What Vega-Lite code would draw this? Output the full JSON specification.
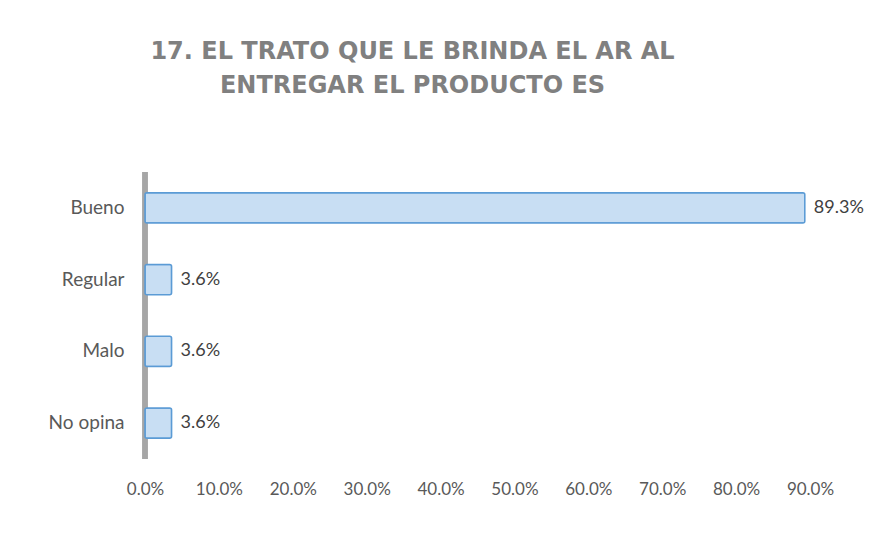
{
  "$schema": "https://vega.github.io/schema/vega-lite/v6.json",
  "width": 665,
  "height": 287,
  "autosize": {"type": "none"},
  "padding": {"left": 145, "top": 172, "right": 67, "bottom": 84},
  "background": "white",
  "config": {"view": {"stroke": null}, "font": "Lato"},
  "title": {
    "text": ["17. EL TRATO QUE LE BRINDA EL AR AL", "ENTREGAR EL PRODUCTO ES"],
    "anchor": "middle",
    "frame": "group",
    "dx": -65,
    "offset": 72,
    "font": "DejaVu Sans",
    "fontSize": 24,
    "fontWeight": "bold",
    "color": "#808080",
    "lineHeight": 34
  },
  "data": {
    "values": [
      {"categoria": "Bueno", "porcentaje": 0.893},
      {"categoria": "Regular", "porcentaje": 0.036},
      {"categoria": "Malo", "porcentaje": 0.036},
      {"categoria": "No opina", "porcentaje": 0.036}
    ]
  },
  "encoding": {
    "y": {
      "field": "categoria",
      "type": "nominal",
      "sort": null,
      "title": null,
      "scale": {"paddingInner": 0.58, "paddingOuter": 0.29},
      "axis": {
        "domain": false,
        "ticks": false,
        "labelPadding": 21,
        "labelFontSize": 19,
        "labelColor": "#595959",
        "labelFont": "Lato"
      }
    }
  },
  "layer": [
    {
      "mark": {"type": "rule", "color": "#a6a6a6", "strokeWidth": 5},
      "encoding": {
        "x": {"datum": 0, "type": "quantitative"},
        "y": null
      }
    },
    {
      "mark": {
        "type": "bar",
        "fill": "#c8def3",
        "stroke": "#5b9bd5",
        "strokeWidth": 1.5,
        "cornerRadius": 2
      },
      "encoding": {
        "x": {
          "field": "porcentaje",
          "type": "quantitative",
          "title": null,
          "scale": {"domain": [0, 0.9], "nice": false},
          "axis": {
            "format": ".1%",
            "values": [0, 0.1, 0.2, 0.3, 0.4, 0.5, 0.6, 0.7, 0.8, 0.9],
            "grid": false,
            "domain": false,
            "ticks": false,
            "labelPadding": 22,
            "labelFontSize": 17,
            "labelColor": "#595959",
            "labelFont": "Lato",
            "labelFlush": false
          }
        }
      }
    },
    {
      "mark": {
        "type": "text",
        "align": "left",
        "baseline": "middle",
        "dx": 9,
        "fontSize": 18,
        "font": "Lato",
        "color": "#404040"
      },
      "encoding": {
        "x": {"field": "porcentaje", "type": "quantitative"},
        "text": {"field": "porcentaje", "type": "quantitative", "format": ".1%"}
      }
    }
  ]
}
